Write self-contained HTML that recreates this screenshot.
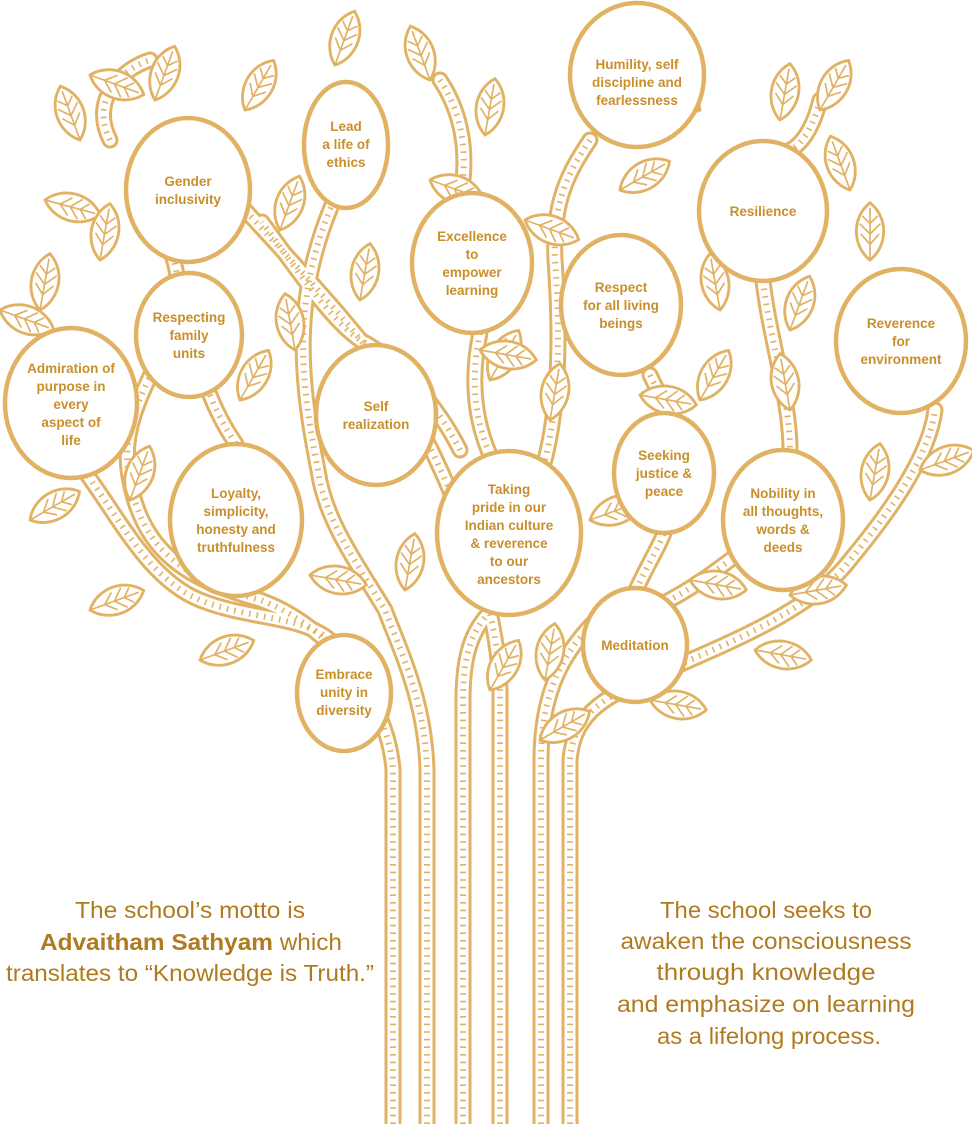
<!DOCTYPE html>
<html><head><meta charset="utf-8"><style>
html,body{margin:0;padding:0;background:#fff;}
svg{display:block;}
.t{font-family:"Liberation Sans",sans-serif;font-weight:bold;font-size:13.5px;fill:#c98f2a;text-anchor:middle;}
.b{font-family:"Liberation Sans Narrow","Liberation Sans",sans-serif;font-size:23px;fill:#b07a1e;text-anchor:middle;}
</style></head><body>
<svg width="972" height="1124" viewBox="0 0 972 1124" xmlns="http://www.w3.org/2000/svg">
<defs>
<g id="lf0">
<path d="M0,0 C10,-13 32,-15 44,0 C32,15 10,13 0,0 Z" fill="#fff" stroke="#e2b264" stroke-width="2.2"/>
<path d="M0,0 L40,0 M12,0 L20,-7 M20,0 L28,-8 M28,0 L34,-6 M12,0 L20,7 M20,0 L28,8 M28,0 L34,6" stroke="#e2b264" stroke-width="1.3" fill="none"/>
</g>
<g id="lf"><use href="#lf0" transform="scale(1.3)"/></g>
</defs>
<g fill="none" stroke-linecap="round">
<g id="br">
<path d="M393,1124 V770 C388,700 330,625 260,600 C190,580 140,555 128,470 C122,420 150,380 172,330 C182,300 178,272 172,255"/>
<path d="M427,1124 V770 C425,700 400,650 385,610 C355,560 325,520 318,470 C300,380 292,300 332,205"/>
<path d="M463,1124 V700 C463,655 472,630 490,612"/>
<path d="M500,1124 V690 C498,590 445,470 405,400 C362,335 300,270 245,210"/>
<path d="M541,1124 V760 C541,690 565,650 598,618"/>
<path d="M570,1124 V760 C575,700 625,690 690,660 C760,630 820,600 850,560 C900,500 930,450 935,410"/>
<path d="M636,590 C650,560 660,545 664,533"/>
<path d="M660,605 C690,590 710,575 730,560"/>
<path d="M460,450 C440,410 400,360 360,340 C330,320 290,260 262,222"/>
<path d="M545,460 C560,400 560,330 555,260 C552,200 570,170 590,140"/>
<path d="M480,333 C470,380 475,420 490,455"/>
<path d="M650,375 C660,395 664,405 664,413"/>
<path d="M763,281 C770,340 790,400 790,450"/>
<path d="M88,476 C120,520 150,580 200,600 C250,620 300,615 330,640"/>
<path d="M210,395 C220,420 230,435 236,444"/>
<path d="M110,140 C90,100 120,70 150,60"/>
<path d="M440,80 C460,110 470,150 460,200"/>
<path d="M820,100 C810,140 790,160 770,150"/>
</g>
<use href="#br" stroke="#e2b264" stroke-width="17"/>
<use href="#br" stroke="#fff" stroke-width="11"/>
<use href="#br" stroke="#e2b264" stroke-width="6" stroke-dasharray="1.6 6" stroke-linecap="butt"/>
</g>
<g>
<use href="#lf" transform="translate(90,75) rotate(20)"/>
<use href="#lf" transform="translate(155,100) rotate(-70)"/>
<use href="#lf" transform="translate(245,110) rotate(-60)"/>
<use href="#lf" transform="translate(80,140) rotate(-110)"/>
<use href="#lf" transform="translate(45,200) rotate(15)"/>
<use href="#lf" transform="translate(100,260) rotate(-80)"/>
<use href="#lf" transform="translate(40,310) rotate(-80)"/>
<use href="#lf" transform="translate(0,310) rotate(20)"/>
<use href="#lf" transform="translate(280,230) rotate(-70)"/>
<use href="#lf" transform="translate(295,350) rotate(-100)"/>
<use href="#lf" transform="translate(335,65) rotate(-70)"/>
<use href="#lf" transform="translate(430,80) rotate(-110)"/>
<use href="#lf" transform="translate(485,135) rotate(-80)"/>
<use href="#lf" transform="translate(360,300) rotate(-80)"/>
<use href="#lf" transform="translate(430,180) rotate(20)"/>
<use href="#lf" transform="translate(525,220) rotate(20)"/>
<use href="#lf" transform="translate(620,190) rotate(-30)"/>
<use href="#lf" transform="translate(700,110) rotate(-150)"/>
<use href="#lf" transform="translate(780,120) rotate(-80)"/>
<use href="#lf" transform="translate(820,110) rotate(-60)"/>
<use href="#lf" transform="translate(850,190) rotate(-110)"/>
<use href="#lf" transform="translate(870,260) rotate(-90)"/>
<use href="#lf" transform="translate(720,310) rotate(-100)"/>
<use href="#lf" transform="translate(790,330) rotate(-70)"/>
<use href="#lf" transform="translate(700,400) rotate(-60)"/>
<use href="#lf" transform="translate(790,410) rotate(-100)"/>
<use href="#lf" transform="translate(920,470) rotate(-20)"/>
<use href="#lf" transform="translate(870,500) rotate(-80)"/>
<use href="#lf" transform="translate(490,380) rotate(-60)"/>
<use href="#lf" transform="translate(550,420) rotate(-80)"/>
<use href="#lf" transform="translate(480,350) rotate(10)"/>
<use href="#lf" transform="translate(590,520) rotate(-20)"/>
<use href="#lf" transform="translate(640,395) rotate(10)"/>
<use href="#lf" transform="translate(240,400) rotate(-60)"/>
<use href="#lf" transform="translate(130,500) rotate(-70)"/>
<use href="#lf" transform="translate(30,520) rotate(-30)"/>
<use href="#lf" transform="translate(90,610) rotate(-20)"/>
<use href="#lf" transform="translate(200,660) rotate(-20)"/>
<use href="#lf" transform="translate(310,575) rotate(10)"/>
<use href="#lf" transform="translate(405,590) rotate(-80)"/>
<use href="#lf" transform="translate(490,690) rotate(-60)"/>
<use href="#lf" transform="translate(545,680) rotate(-80)"/>
<use href="#lf" transform="translate(540,740) rotate(-30)"/>
<use href="#lf" transform="translate(690,580) rotate(10)"/>
<use href="#lf" transform="translate(755,650) rotate(10)"/>
<use href="#lf" transform="translate(790,595) rotate(-10)"/>
<use href="#lf" transform="translate(650,700) rotate(10)"/>
</g>
<g fill="#fff" stroke="#e2b264" stroke-width="4.5">
<ellipse cx="188" cy="190" rx="62" ry="72"/>
<ellipse cx="346" cy="145" rx="42" ry="63"/>
<ellipse cx="637" cy="75" rx="67" ry="72"/>
<ellipse cx="763" cy="211" rx="64" ry="70"/>
<ellipse cx="472" cy="263" rx="60" ry="70"/>
<ellipse cx="621" cy="305" rx="60" ry="70"/>
<ellipse cx="189" cy="335" rx="53" ry="62"/>
<ellipse cx="901" cy="341" rx="65" ry="72"/>
<ellipse cx="71" cy="403" rx="66" ry="75"/>
<ellipse cx="376" cy="415" rx="60" ry="70"/>
<ellipse cx="664" cy="473" rx="50" ry="60"/>
<ellipse cx="236" cy="520" rx="66" ry="76"/>
<ellipse cx="509" cy="533" rx="72" ry="82"/>
<ellipse cx="783" cy="520" rx="60" ry="70"/>
<ellipse cx="635" cy="645" rx="52" ry="57"/>
<ellipse cx="344" cy="693" rx="47" ry="58"/>
</g>
<g class="t">
<text x="188" y="186">Gender</text><text x="188" y="204">inclusivity</text>
<text x="346" y="131">Lead</text><text x="346" y="149">a life of</text><text x="346" y="167">ethics</text>
<text x="637" y="69">Humility, self</text><text x="637" y="87">discipline and</text><text x="637" y="105">fearlessness</text>
<text x="763" y="216">Resilience</text>
<text x="472" y="241">Excellence</text><text x="472" y="259">to</text><text x="472" y="277">empower</text><text x="472" y="295">learning</text>
<text x="621" y="292">Respect</text><text x="621" y="310">for all living</text><text x="621" y="328">beings</text>
<text x="189" y="322">Respecting</text><text x="189" y="340">family</text><text x="189" y="358">units</text>
<text x="901" y="328">Reverence</text><text x="901" y="346">for</text><text x="901" y="364">environment</text>
<text x="71" y="373">Admiration of</text><text x="71" y="391">purpose in</text><text x="71" y="409">every</text><text x="71" y="427">aspect of</text><text x="71" y="445">life</text>
<text x="376" y="411">Self</text><text x="376" y="429">realization</text>
<text x="664" y="460">Seeking</text><text x="664" y="478">justice &amp;</text><text x="664" y="496">peace</text>
<text x="236" y="498">Loyalty,</text><text x="236" y="516">simplicity,</text><text x="236" y="534">honesty and</text><text x="236" y="552">truthfulness</text>
<text x="509" y="494">Taking</text><text x="509" y="512">pride in our</text><text x="509" y="530">Indian culture</text><text x="509" y="548">&amp; reverence</text><text x="509" y="566">to our</text><text x="509" y="584">ancestors</text>
<text x="783" y="498">Nobility in</text><text x="783" y="516">all thoughts,</text><text x="783" y="534">words &amp;</text><text x="783" y="552">deeds</text>
<text x="635" y="650">Meditation</text>
<text x="344" y="679">Embrace</text><text x="344" y="697">unity in</text><text x="344" y="715">diversity</text>
</g>
<g class="b">
<text x="190" y="918" textLength="230" lengthAdjust="spacingAndGlyphs">The school’s motto is</text>
<text x="191" y="950" textLength="302" lengthAdjust="spacingAndGlyphs"><tspan font-weight="bold">Advaitham Sathyam</tspan> which</text>
<text x="190" y="981" textLength="368" lengthAdjust="spacingAndGlyphs">translates to “Knowledge is Truth.”</text>
<text x="766" y="918" textLength="212" lengthAdjust="spacingAndGlyphs">The school seeks to</text>
<text x="766" y="949" textLength="291" lengthAdjust="spacingAndGlyphs">awaken the consciousness</text>
<text x="766" y="980" textLength="219" lengthAdjust="spacingAndGlyphs">through knowledge</text>
<text x="766" y="1012" textLength="298" lengthAdjust="spacingAndGlyphs">and emphasize on learning</text>
<text x="769" y="1044" textLength="224" lengthAdjust="spacingAndGlyphs">as a lifelong process.</text>
</g>
</svg>
</body></html>
